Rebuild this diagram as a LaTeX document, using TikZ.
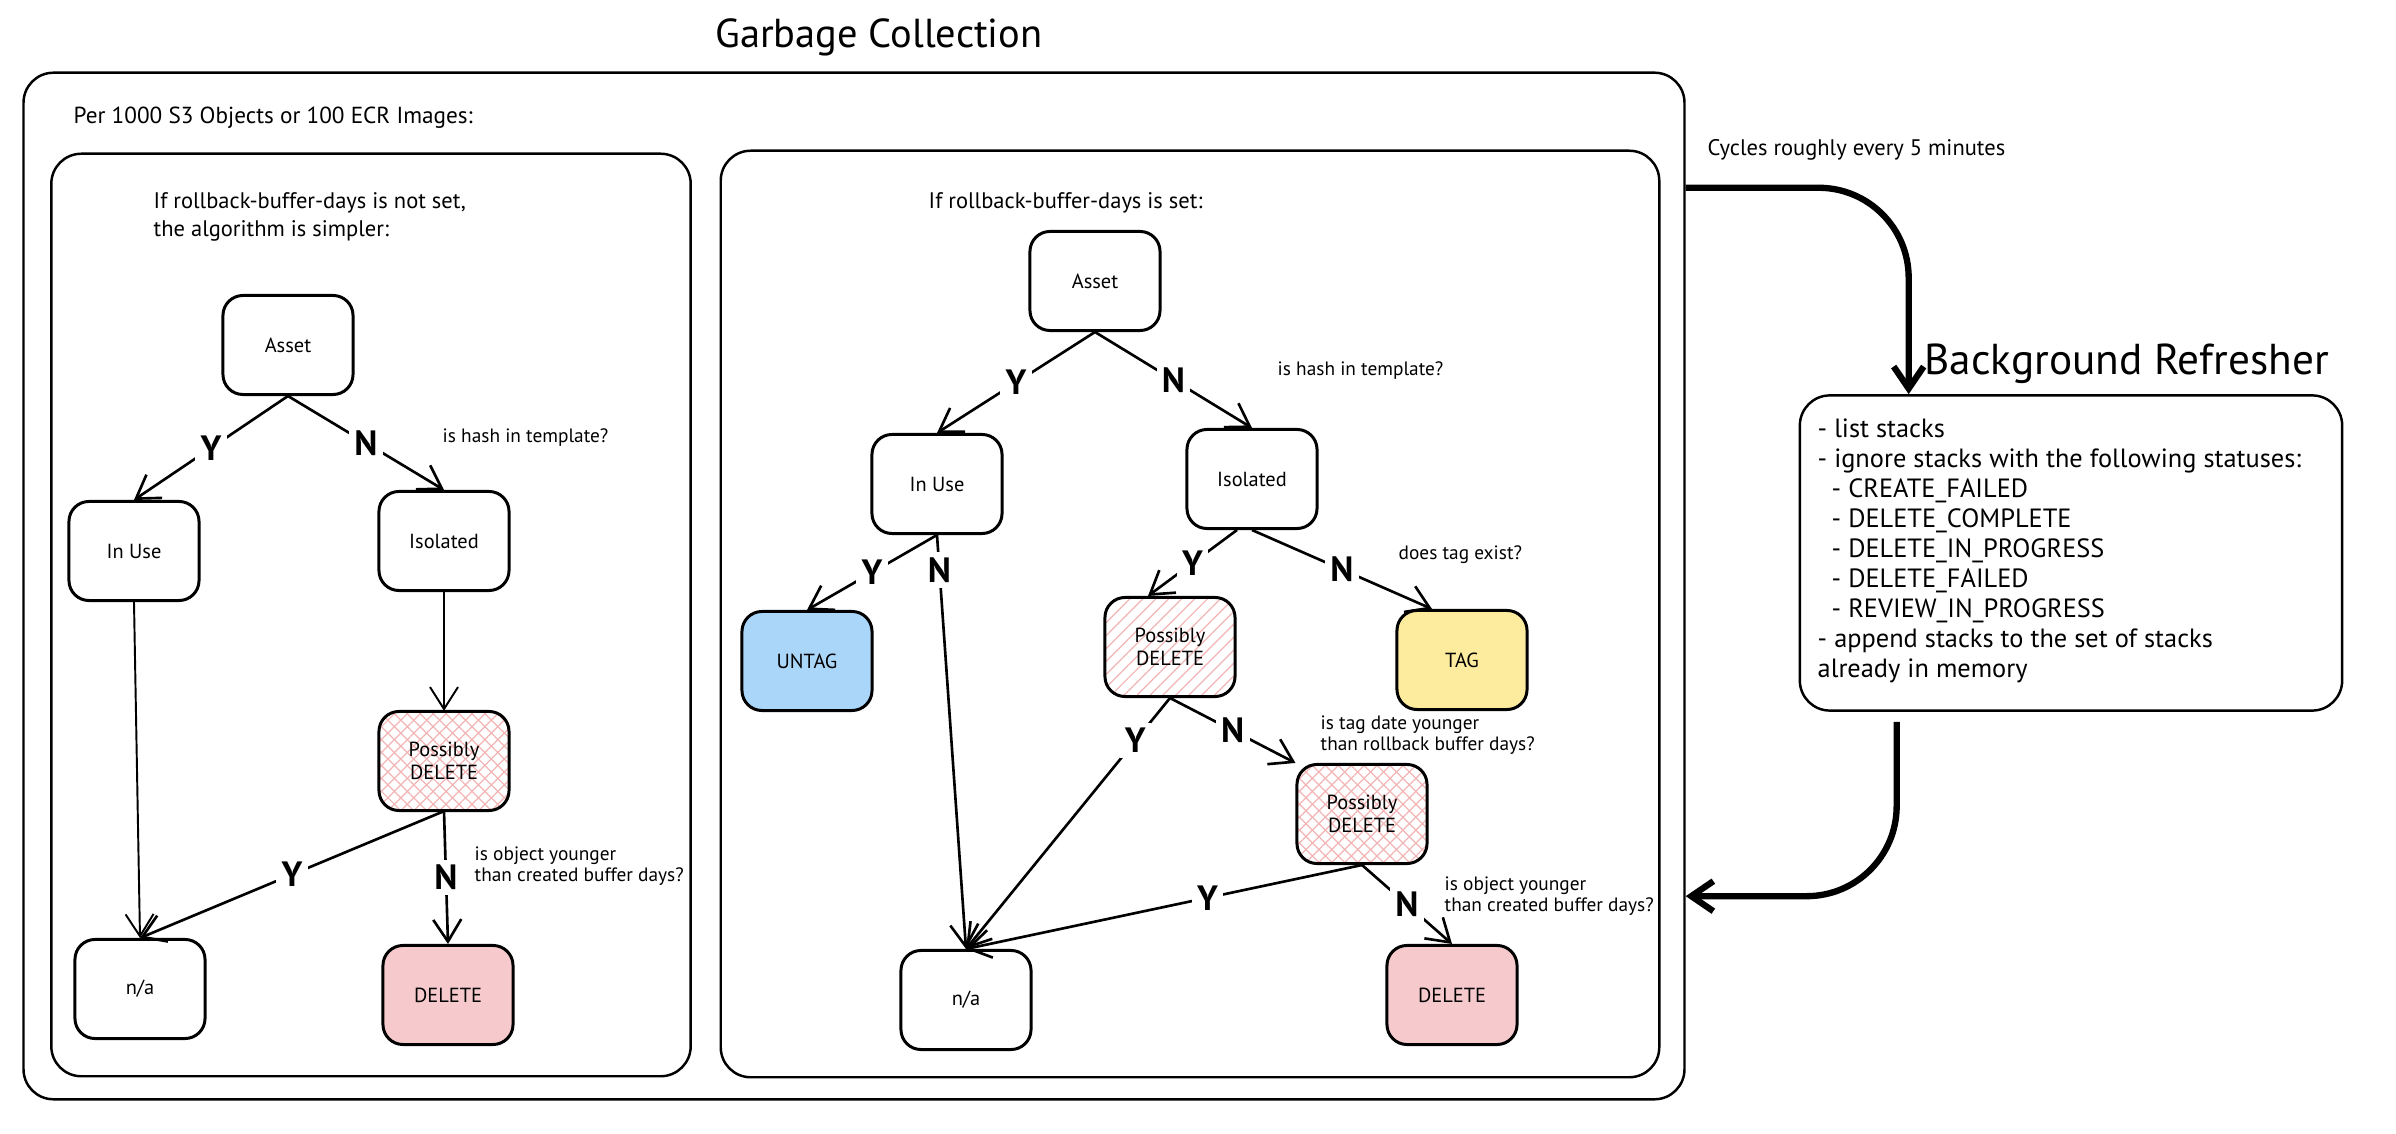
\documentclass[tikz,border=0pt]{standalone}
\usepackage{fontspec}
\setmainfont{PT Sans}
\definecolor{untagblue}{RGB}{170,214,250}
\definecolor{tagyellow}{RGB}{253,236,158}
\definecolor{delpink}{RGB}{246,202,204}
\definecolor{hatchpink}{RGB}{242,180,180}
\usetikzlibrary{arrows.meta, patterns.meta, positioning}

\begin{document}
\begin{tikzpicture}[x=0.01cm, y=-0.01cm,
          panel/.style={
              draw,
              line width=0.7pt,
              rounded corners=0.3cm
            },
          box/.style={
              draw,
              line width=0.85pt,
              rounded corners=0.2cm,
              minimum width=1.3cm,
              minimum height=0.99cm,
              font=\fontsize{5.8}{6.6}\selectfont,
              align=center
            },
          hatch/.style={box, pattern={Lines[angle=45, distance=2.6pt, line width=0.35pt]}, pattern color=hatchpink},
          crosshatch/.style={hatch,
              preaction={pattern={Lines[angle=-45, distance=2.6pt, line width=0.35pt]}, pattern color=hatchpink}},
          note/.style={font=\fontsize{5.5}{6}\selectfont, align=left, anchor=west, inner sep=0pt},
          head/.style={font=\fontsize{6.4}{8}\selectfont, align=left, anchor=west, inner sep=0pt},
          yn/.style={fill=white, font=\fontsize{10}{12}\selectfont\bfseries, inner sep=1.5pt},
          arr/.style={-{Straight Barb[length=0.22cm, width=0.28cm]}, line width=0.75pt},
          thinarr/.style={arr, line width=0.55pt},
          bigarr/.style={-{Straight Barb[length=0.22cm, width=0.3cm]}, line width=1.8pt, rounded corners=0.9cm}
        ]
        \useasboundingbox (0,0) rectangle (2396,1134);

        % garbage collection
        \node[font=\fontsize{11.5}{13}\selectfont] (gctitle) at (879,37) {Garbage Collection};
        \node[panel, minimum width=16.6cm, minimum height=10.26cm] (gcbox) at (854,586) {};
        \node[head, font=\fontsize{6.6}{8}\selectfont] (per) at (73,118) {Per 1000 S3 Objects or 100 ECR Images:};

        % without rollback buffer
        \node[panel, minimum width=6.39cm, minimum height=9.22cm] (simplebox) at (371,615) {};
        \node[head] (simplehead) at (153,217) {If rollback-buffer-days is not set,\\the algorithm is simpler:};
        \node[box] (asset1) at (288,345) {Asset};
        \node[box] (inuse1) at (134,551) {In Use};
        \node[box] (isolated1) at (444,541) {Isolated};
        \node[crosshatch] (maybe1) at (444,761) {Possibly\\DELETE};
        \node[box] (na1) at (140,989) {n/a};
        \node[box, fill=delpink] (delete1) at (448,995) {DELETE};
        \node[note] (hash1) at (442,438) {is hash in template?};
        \node[note] (young1) at (474,866) {is object younger\\than created buffer days?};

        \draw[arr] (asset1.south) -- node[yn] {Y} (inuse1.north);
        \draw[arr] (asset1.south) -- node[yn] {N} (isolated1.north);
        \draw[thinarr] (inuse1.south) -- (na1.north);
        \draw[thinarr] (isolated1.south) -- (maybe1.north);
        \draw[arr] (maybe1.south) -- node[yn] {Y} (na1.north);
        \draw[arr] (maybe1.south) -- node[yn] {N} (delete1.north);

        % with rollback buffer
        \node[panel, minimum width=9.38cm, minimum height=9.26cm] (bufferbox) at (1190,614) {};
        \node[head] (bufferhead) at (928,203) {If rollback-buffer-days is set:};
        \node[box] (asset2) at (1095,281) {Asset};
        \node[box] (inuse2) at (937,484) {In Use};
        \node[box] (isolated2) at (1252,479) {Isolated};
        \node[box, fill=untagblue] (untag) at (807,661) {UNTAG};
        \node[hatch] (maybe2) at (1170,647) {Possibly\\DELETE};
        \node[box, fill=tagyellow] (tag) at (1462,660) {TAG};
        \node[crosshatch] (maybe3) at (1362,814) {Possibly\\DELETE};
        \node[box] (na2) at (966,1000) {n/a};
        \node[box, fill=delpink] (delete2) at (1452,995) {DELETE};
        \node[note] (hash2) at (1277,371) {is hash in template?};
        \node[note] (tagexist) at (1398,555) {does tag exist?};
        \node[note] (tagdate) at (1320,735) {is tag date younger\\than rollback buffer days?};
        \node[note] (young2) at (1444,896) {is object younger\\than created buffer days?};

        \draw[arr] (asset2.south) -- node[yn] {Y} (inuse2.north);
        \draw[arr] (asset2.south) -- node[yn] {N} (isolated2.north);
        \draw[arr] (inuse2.south) -- node[yn] {Y} (untag.north);
        \draw[arr] (inuse2.south) -- node[yn, pos=0.085] {N} (na2.north);
        \draw[arr] ([xshift=-0.15cm]isolated2.south) -- node[yn] {Y} ([xshift=-0.22cm]maybe2.north);
        \draw[arr] (isolated2.south) -- node[yn] {N} ([xshift=-0.3cm]tag.north);
        \draw[arr] (maybe2.south) -- node[yn, pos=0.17] {Y} (na2.north);
        \draw[arr] (maybe2.south) -- node[yn] {N} (maybe3.north west);
        \draw[arr] (maybe3.south) -- node[yn, pos=0.39] {Y} (na2.north);
        \draw[arr] (maybe3.south) -- node[yn] {N} (delete2.north);

        % background refresher
        \node[head, font=\fontsize{6.4}{8}\selectfont] (cycles) at (1707,150) {Cycles roughly every 5 minutes};
        \node[font=\fontsize{12.3}{14}\selectfont, anchor=west, inner sep=0pt] (refreshtitle) at (1924,364) {Background Refresher};
        \node[panel, minimum width=5.42cm, minimum height=3.15cm] (refresher) at (2071,553) {};
        \node[anchor=north west, inner sep=0pt, align=left, font=\fontsize{7.5}{8.55}\selectfont] (steps) at (1817,418)
          {- list stacks\\
           - ignore stacks with the following statuses:\\
           \hspace*{0.14cm}- CREATE\_FAILED\\
           \hspace*{0.14cm}- DELETE\_COMPLETE\\
           \hspace*{0.14cm}- DELETE\_IN\_PROGRESS\\
           \hspace*{0.14cm}- DELETE\_FAILED\\
           \hspace*{0.14cm}- REVIEW\_IN\_PROGRESS\\
           - append stacks to the set of stacks\\
           already in memory};

        \draw[bigarr] ([yshift=3.98cm]gcbox.east) -| ([xshift=1.1cm]refresher.north west);
        \draw[bigarr] ([xshift=0.98cm, yshift=-0.1cm]refresher.south west) |- ([yshift=-3.1cm]gcbox.east);
      \end{tikzpicture}
\end{document}
